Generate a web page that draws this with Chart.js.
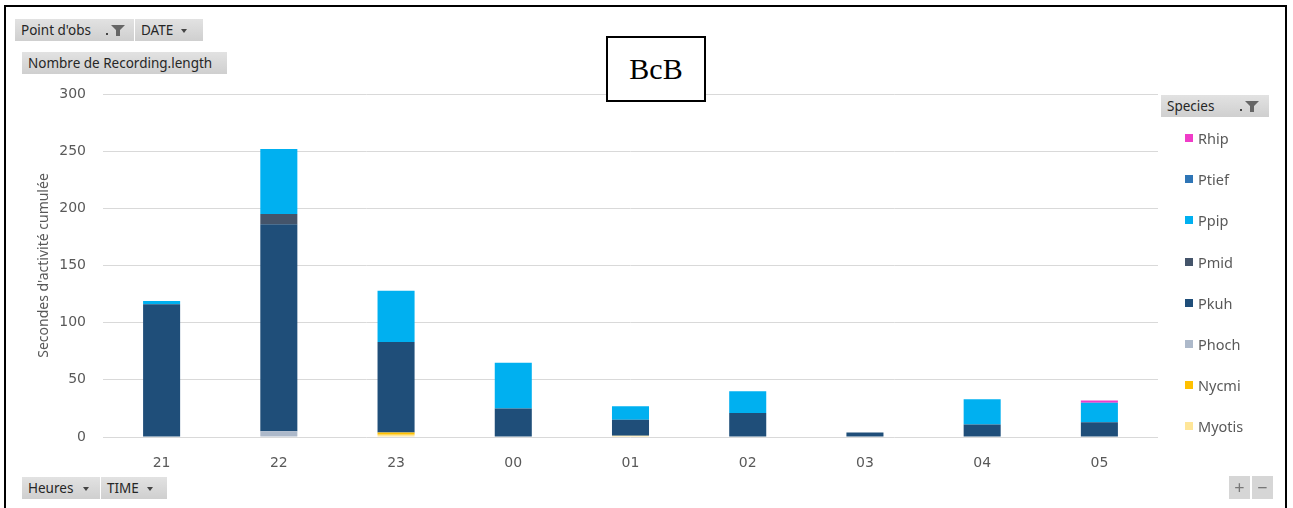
<!DOCTYPE html>
<html>
<head>
<meta charset="utf-8">
<script src="https://cdn.jsdelivr.net/npm/chart.js@4.4.1/dist/chart.umd.min.js"></script>
<style>
  html, body { margin: 0; padding: 0; background: #fff; }
  #wrap { position: relative; width: 1293px; height: 508px; overflow: hidden; font-family: "Noto Sans", sans-serif; }
  #frame { position: absolute; left: 4px; top: 5px; width: 1283px; height: 520px; border: 2px solid #000; box-sizing: border-box; }
  #myChart { position: absolute; left: 0; top: 0; }
  .btn { position: absolute; height: 22px; line-height: 22px; background: linear-gradient(#e2e2e2, #cfcfcf); color: #262626; font-size: 13.5px; padding: 0 6px; box-sizing: border-box; white-space: nowrap; }
  .arrow { display: inline-block; width: 0; height: 0; border-left: 3px solid transparent; border-right: 3px solid transparent; border-top: 4px solid #444; vertical-align: middle; margin-left: 8px; }
  .funnel { position: absolute; top: 5px; }
  #bcb { position: absolute; left: 606px; top: 36px; width: 100px; height: 66px; border: 2px solid #000; box-sizing: border-box; background: #fff; font-family: "Liberation Serif", serif; font-size: 30px; text-align: center; line-height: 62px; }
  #legend { position: absolute; left: 1185px; top: 128px; }
  .item { position: absolute; left: 0; height: 20px; white-space: nowrap; font-size: 14.5px; color: #595959; }
  .item span.sw { position: absolute; left: 0; top: 6px; width: 8px; height: 8px; }
  .item span.tx { position: absolute; left: 13px; top: 0; line-height: 20px; }
  #zoom { position: absolute; left: 1229px; top: 476px; }
  #zoom div { position: absolute; top: 0; width: 21px; height: 23px; background: #d6d6d6; color: #777; font-size: 18px; line-height: 22px; text-align: center; }
</style>
</head>
<body>
<div id="wrap">
  <canvas id="myChart" width="1293" height="508"></canvas>
  <div id="frame"></div>

  <div class="btn" style="left:15px; top:19px; width:119px;">Point d'obs
    <svg class="funnel" style="left:90px" width="24" height="13" viewBox="0 0 24 13"><rect x="1" y="9" width="2" height="2" fill="#444"/><polygon points="6,1 20,1 15,6 15,12 11,12 11,6" fill="#666"/></svg>
  </div>
  <div class="btn" style="left:135px; top:19px; width:68px;">DATE<span class="arrow"></span></div>
  <div class="btn" style="left:22px; top:52px; width:205px;">Nombre de Recording.length</div>

  <div id="bcb">BcB</div>

  <div class="btn" style="left:1161px; top:95px; width:108px;">Species
    <svg class="funnel" style="left:78px" width="24" height="13" viewBox="0 0 24 13"><rect x="1" y="9" width="2" height="2" fill="#444"/><polygon points="6,1 20,1 15,6 15,12 11,12 11,6" fill="#666"/></svg>
  </div>
  <div id="legend"></div>

  <div class="btn" style="left:22px; top:477px; width:78px;">Heures<span class="arrow" style="margin-left:10px"></span></div>
  <div class="btn" style="left:101px; top:477px; width:66px;">TIME<span class="arrow"></span></div>

  <div id="zoom"><div style="left:0">+</div><div style="left:23px">−</div></div>
</div>

<script>
// hours of the night (x categories)
const hours = ['21', '22', '23', '00', '01', '02', '03', '04', '05'];

// cumulated seconds of activity per species, stacked bottom to top
const species = ['Myotis', 'Nycmi', 'Phoch', 'Pkuh', 'Pmid', 'Ppip', 'Ptief', 'Rhip'];
const myotis = [0, 0, 2, 0, 1, 0, 0, 0, 0];
const nycmi  = [0, 0, 2, 0, 0, 0, 0, 0, 0];
const phoch  = [0, 5, 0, 0, 0, 0, 0, 0, 0];
const pkuh   = [116, 181, 79, 25, 14, 21, 4, 11, 13];
const pmid   = [0, 9, 0, 0, 0, 0, 0, 0, 0];
const ppip   = [3, 57, 45, 40, 12, 19, 0, 22, 17];
const ptief  = [0, 0, 0, 0, 0, 0, 0, 0, 0];
const rhip   = [0, 0, 0, 0, 0, 0, 0, 0, 2];

const yTicks = [0, 50, 100, 150, 200, 250, 300];

const seriesValues = [myotis, nycmi, phoch, pkuh, pmid, ppip, ptief, rhip];
const colors = ['#ffe699', '#ffc000', '#adb9ca', '#1f4e79', '#44546a', '#00b0f0', '#2e75b6', '#f03cc8'];

// legend on the right, top item = top of the stack
const legend = document.getElementById('legend');
species.slice().reverse().forEach(function(name, i) {
    const idx = species.length - 1 - i;
    const el = document.createElement('div');
    el.className = 'item';
    el.style.top = (i * 41.2) + 'px';
    el.innerHTML = '<span class="sw" style="background:' + colors[idx] + '"></span><span class="tx">' + name + '</span>';
    legend.appendChild(el);
});

const ctx = document.getElementById('myChart');

new Chart(ctx, {
    type: 'bar',
    data: {
        labels: hours,
        datasets: species.map(function(name, i) {
            return {
                label: name,
                data: seriesValues[i],
                backgroundColor: colors[i],
                categoryPercentage: 1,
                barPercentage: 0.316
            };
        })
    },
    options: {
        responsive: false,
        animation: false,
        layout: {
            padding: { left: 32, right: 135, top: 94, bottom: 0 }
        },
        plugins: {
            legend: { display: false },
            tooltip: { enabled: false }
        },
        scales: {
            y: {
                stacked: true,
                min: 0,
                max: 300,
                afterFit: function(scale) { scale.width = 71; },
                afterBuildTicks: function(scale) {
                    scale.ticks = yTicks.map(function(v) { return { value: v }; });
                },
                border: { display: false },
                grid: {
                    color: '#d9d9d9',
                    drawTicks: false
                },
                ticks: {
                    padding: 17,
                    color: '#595959',
                    font: { family: 'DejaVu Sans', size: 14 }
                },
                title: {
                    display: true,
                    text: "Secondes d'activité cumulée",
                    color: '#595959',
                    font: { family: 'Noto Sans', size: 14 }
                }
            },
            x: {
                stacked: true,
                afterFit: function(scale) { scale.height = 71; },
                grid: { display: false },
                border: { display: false },
                ticks: {
                    padding: 10,
                    color: '#595959',
                    font: { family: 'DejaVu Sans', size: 14 }
                }
            }
        }
    }
});
</script>
</body>
</html>
